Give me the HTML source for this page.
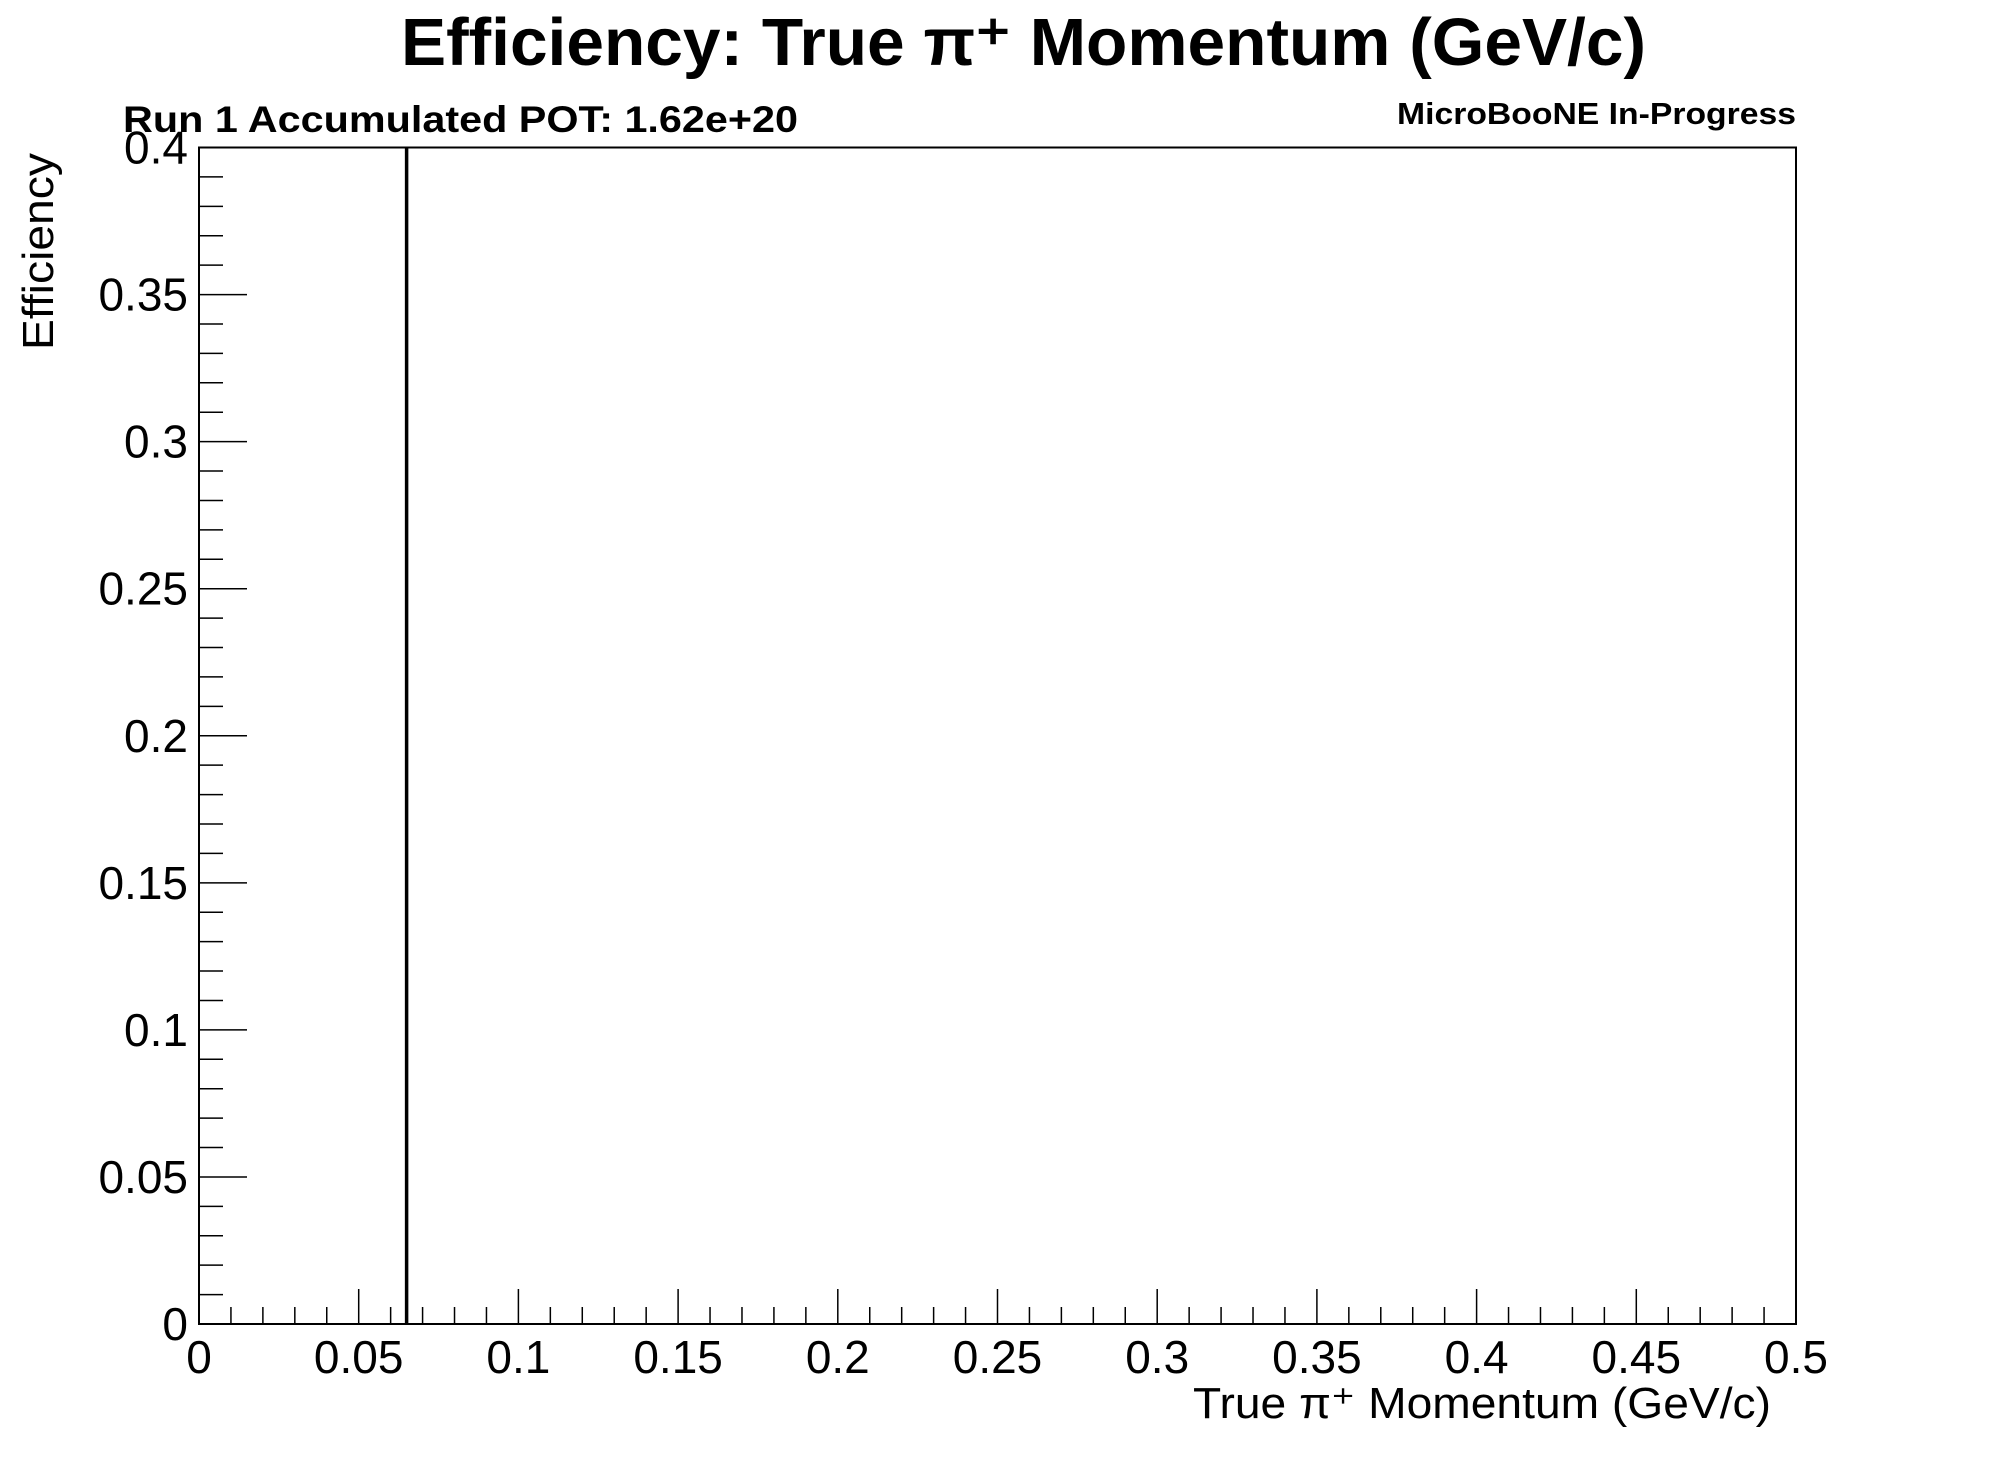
<!DOCTYPE html>
<html><head><meta charset="utf-8"><style>
html,body{margin:0;padding:0;background:#fff;}
svg{display:block;font-family:"Liberation Sans",Arial,sans-serif;}
</style></head><body>
<svg id="chart" width="1996" height="1472" viewBox="0 0 1996 1472" xmlns="http://www.w3.org/2000/svg">
<rect x="0" y="0" width="1996" height="1472" fill="#fff"/>
<text x="401" y="65" font-size="67" font-weight="bold" textLength="1245" lengthAdjust="spacingAndGlyphs">Efficiency: True  π⁺ Momentum (GeV/c)</text>
<text x="123" y="132" font-size="37" font-weight="bold" textLength="675" lengthAdjust="spacingAndGlyphs">Run 1 Accumulated POT: 1.62e+20</text>
<text x="1397" y="124" font-size="31" font-weight="bold" textLength="399" lengthAdjust="spacingAndGlyphs">MicroBooNE In-Progress</text>
<text x="1193" y="1418" font-size="44" textLength="578" lengthAdjust="spacingAndGlyphs">True  π⁺ Momentum (GeV/c)</text>
<text transform="translate(53,153) rotate(-90)" text-anchor="end" font-size="44" textLength="197" lengthAdjust="spacingAndGlyphs">Efficiency</text>
<g id="axes"></g>
<g id="marks"></g>
<rect x="199" y="147.5" width="1597" height="1176.5" fill="none" stroke="#000" stroke-width="2"/>
</svg>
<script>
const binEdges = [0.065];
const binValues = [1.0];
const xTicks = [0, 0.05, 0.1, 0.15, 0.2, 0.25, 0.3, 0.35, 0.4, 0.45, 0.5];
const xTickLabels = ["0","0.05","0.1","0.15","0.2","0.25","0.3","0.35","0.4","0.45","0.5"];
const yTicks = [0, 0.05, 0.1, 0.15, 0.2, 0.25, 0.3, 0.35, 0.4];
const yTickLabels = ["0","0.05","0.1","0.15","0.2","0.25","0.3","0.35","0.4"];

const L=199,R=1796,T=147.5,B=1324;
const xMin=0,xMax=0.5,yMin=0,yMax=0.4;
function X(v){return L+(v-xMin)/(xMax-xMin)*(R-L);}
function Y(v){return B-(v-yMin)/(yMax-yMin)*(B-T);}
const NS="http://www.w3.org/2000/svg";
const axes=document.getElementById('axes');
const marks=document.getElementById('marks');
function line(g,x1,y1,x2,y2,w){const l=document.createElementNS(NS,'line');l.setAttribute('x1',x1);l.setAttribute('y1',y1);l.setAttribute('x2',x2);l.setAttribute('y2',y2);l.setAttribute('stroke','#000');l.setAttribute('stroke-width',w);g.appendChild(l);return l;}
for(let i=0;i<=50;i++){const v=i*0.01;if(i%5===0)continue;
  const t=line(axes,X(v),B,X(v),B-17,1.5);
  
  }
for(let i=0;i<=40;i++){const v=i*0.01;if(i%5===0)continue;
  const t=line(axes,L,Y(v),L+24,Y(v),1.5);
  
  }
xTicks.forEach((v,i)=>{
  const t=line(axes,X(v),B,X(v),B-35,1.5);
  
  
  const tx=document.createElementNS(NS,'text');
  tx.setAttribute('x',X(v));tx.setAttribute('y',1373);tx.setAttribute('font-size','46');tx.setAttribute('text-anchor','middle');
  tx.textContent=xTickLabels[i];
  
  
  axes.appendChild(tx);
});
yTicks.forEach((v,i)=>{
  const t=line(axes,L,Y(v),L+48,Y(v),1.5);
  
  
  const tx=document.createElementNS(NS,'text');
  tx.setAttribute('x',188);tx.setAttribute('y',Y(v)+16);tx.setAttribute('font-size','46');tx.setAttribute('text-anchor','end');
  tx.textContent=yTickLabels[i];
  
  
  axes.appendChild(tx);
});
const clip=v=>Math.max(yMin,Math.min(yMax,v));
binEdges.forEach((e,i)=>{
  const l=line(marks,X(e),Y(0),X(e),Y(clip(binValues[i])),3.5);
  
  
});
</script>
</body></html>
